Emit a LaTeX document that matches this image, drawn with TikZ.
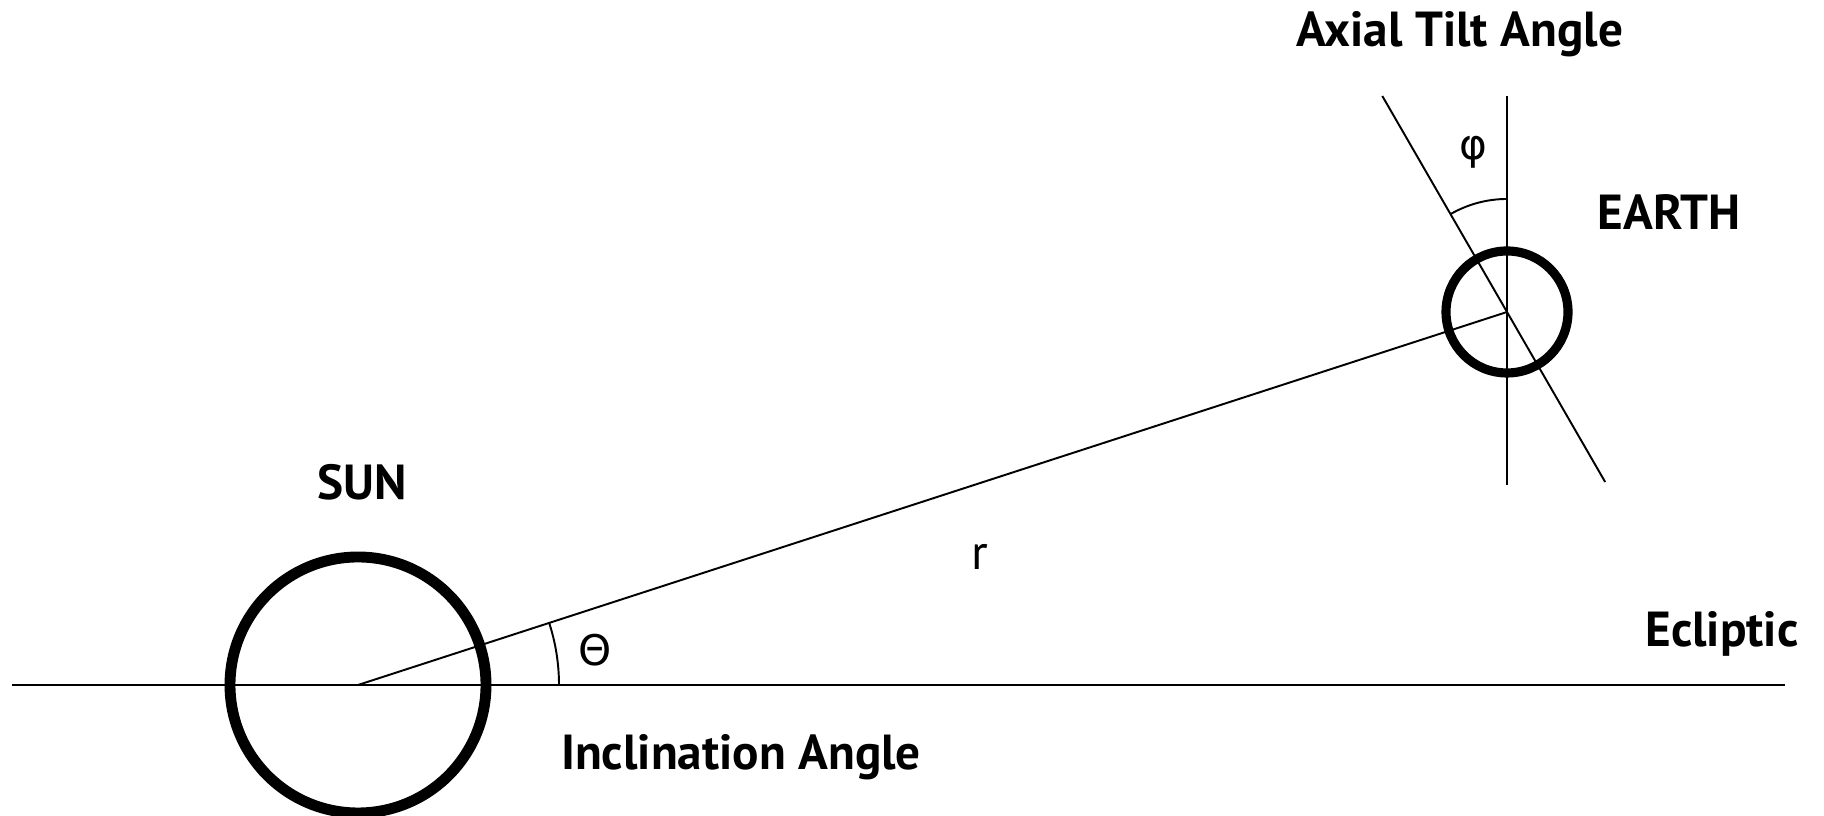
\documentclass[tikz,border=0pt]{standalone}
\usepackage{fontspec}
\usetikzlibrary{calc}
\setmainfont{PT Sans}
\newfontfamily\greekfont{DejaVu Sans}
\begin{document}
\begin{tikzpicture}[x=0.01cm,y=0.01cm,
  lbl/.style={anchor=base,inner sep=0pt,font=\fontsize{14}{16}\selectfont\bfseries},
  sym/.style={inner sep=0pt,font=\fontsize{12}{14}\selectfont\greekfont},
  thin line/.style={line width=0.55pt}]
\useasboundingbox (0,0) rectangle (1824,816);
% coordinates
\coordinate (eclL) at (12,131);
\coordinate (eclR) at (1785,131);
\coordinate (sun) at (358,131);
\coordinate (earth) at (1507,504);
\coordinate (axT) at (1507,720);
\coordinate (axB) at (1507,331);
\coordinate (tiltT) at ($(earth)+(120:249.4)$);
\coordinate (tiltB) at ($(earth)+(-60:196.3)$);
% ecliptic
\draw[line width=0.75pt] (eclL) -- (eclR);
% sun
\draw[line width=3.1pt] (sun) circle[radius=128];
% earth
\draw[line width=2.6pt] (earth) circle[radius=61];
% sun-earth line
\draw[thin line] (sun) -- (earth);
% axes
\draw[line width=0.7pt] (axT) -- (axB);
\draw[thin line] (tiltT) -- (tiltB);
% angle arcs
\draw[thin line] ($(earth)+(90:113)$) arc[start angle=90,end angle=120,radius=113];
\draw[thin line] ($(sun)+(0:201)$) arc[start angle=0,end angle=18,radius=201];
% labels
\node[lbl] (axlbl) at (1460,769) {Axial Tilt Angle};
\node[lbl] (earthlbl) at (1669,586) {EARTH};
\node[lbl] (sunlbl) at (362,316) {SUN};
\node[lbl] (inclbl) at (741,46) {Inclination Angle};
\node[lbl] (ecllbl) at (1722,169) {Ecliptic};
\node[anchor=base,inner sep=0pt,font=\fontsize{14}{16}\selectfont] (rlbl) at (980,246) {r};
\node[sym,anchor=base] (thlbl) at (595,150) {Θ};
\node[sym] (phlbl) at (1473,664) {φ};
\end{tikzpicture}
\end{document}
